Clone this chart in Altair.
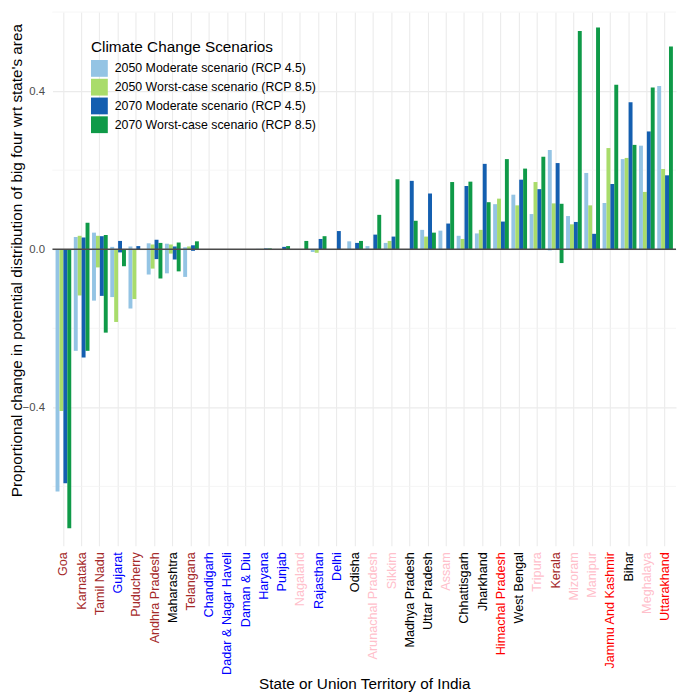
import altair as alt
import pandas as pd

states = ["Goa", "Karnataka", "Tamil Nadu", "Gujarat", "Puducherry", "Andhra Pradesh",
          "Maharashtra", "Telangana", "Chandigarh", "Dadar & Nagar Haveli", "Daman & Diu",
          "Haryana", "Punjab", "Nagaland", "Rajasthan", "Delhi", "Odisha",
          "Arunachal Pradesh", "Sikkim", "Madhya Pradesh", "Uttar Pradesh", "Assam",
          "Chhattisgarh", "Jharkhand", "Himachal Pradesh", "West Bengal", "Tripura",
          "Kerala", "Mizoram", "Manipur", "Jammu And Kashmir", "Bihar", "Meghalaya",
          "Uttarakhand"]

label_colors = ["#A52A2A", "#A52A2A", "#A52A2A", "#0000FF", "#A52A2A", "#A52A2A",
                "#000000", "#A52A2A", "#0000FF", "#0000FF", "#0000FF",
                "#0000FF", "#0000FF", "#FFC0CB", "#0000FF", "#0000FF", "#000000",
                "#FFC0CB", "#FFC0CB", "#000000", "#000000", "#FFC0CB",
                "#000000", "#000000", "#FF0000", "#000000", "#FFC0CB",
                "#A52A2A", "#FFC0CB", "#FFC0CB", "#FF0000", "#000000", "#FFC0CB",
                "#FF0000"]

scenarios = ["2050 Moderate scenario (RCP 4.5)", "2050 Worst-case scenario (RCP 8.5)",
             "2070 Moderate scenario (RCP 4.5)", "2070 Worst-case scenario (RCP 8.5)"]
colors = ["#94c4e4", "#a9dc6b", "#145fb0", "#0f9a48"]

# positive (gain) values per scenario, in state order
gain_2050_m = [0, 0.031, 0.042, 0.006, 0.007, 0.015, 0.014, 0.005, 0, 0, 0,
               0.001, 0, 0, 0, 0, 0.020, 0.008, 0.016, 0, 0.049, 0.047,
               0.034, 0.040, 0.114, 0.138, 0.089, 0.251, 0.084, 0.193, 0.117, 0.228, 0.262, 0.413]
gain_2050_w = [0, 0.034, 0.034, 0, 0, 0.012, 0.012, 0.007, 0, 0, 0,
               0.001, 0, 0, 0, 0, 0, 0, 0.021, 0, 0.032, 0,
               0.026, 0.049, 0.128, 0.111, 0.170, 0.116, 0.063, 0.111, 0.256, 0.231, 0.145, 0.203]
gain_2070_m = [0, 0.030, 0.033, 0.021, 0.008, 0.024, 0.007, 0.010, 0, 0, 0,
               0.002, 0.006, 0, 0.026, 0.046, 0.016, 0.037, 0.032, 0.173, 0.141, 0.065,
               0.160, 0.216, 0.070, 0.176, 0.152, 0.218, 0.069, 0.039, 0.165, 0.372, 0.298, 0.187]
gain_2070_w = [0, 0.067, 0.036, 0, 0, 0.016, 0.017, 0.020, 0, 0, 0,
               0.002, 0.008, 0.021, 0.033, 0, 0.021, 0.087, 0.177, 0.072, 0.042, 0.170,
               0.171, 0.119, 0.228, 0.204, 0.234, 0.115, 0.552, 0.561, 0.416, 0.264, 0.409, 0.513]

# negative (loss) values per scenario, in state order
loss_2050_m = [-0.613, -0.257, -0.130, -0.121, -0.150, -0.064, -0.061, -0.070, 0, 0, 0,
               0, 0, 0, -0.007, 0, 0, 0, 0, 0, 0, 0,
               0, 0, 0, 0, 0, -0.003, 0, 0, 0, 0, 0, 0]
loss_2050_w = [-0.409, -0.117, -0.046, -0.184, -0.126, -0.049, -0.011, 0, 0, 0, 0,
               0, 0, 0, -0.009, 0, 0, 0, 0, 0, 0, 0,
               0, 0, 0, 0, 0, 0, 0, 0, 0, 0, 0, 0]
loss_2070_m = [-0.592, -0.274, -0.118, -0.008, -0.001, -0.025, -0.026, -0.004, 0, 0, 0,
               0, 0, 0, 0, 0, 0, 0, 0, 0, 0, 0,
               0, 0, 0, 0, 0, 0, 0, 0, 0, 0, 0, 0]
loss_2070_w = [-0.706, -0.257, -0.211, -0.043, 0, -0.074, -0.056, 0, 0, 0, 0,
               0, 0, 0, 0, 0, 0, 0, 0, 0, 0, 0,
               0, 0, 0, 0, 0, -0.035, 0, 0, 0, 0, 0, 0]

minor_grid = [-0.6, -0.2, 0.2, 0.6]

gains = [gain_2050_m, gain_2050_w, gain_2070_m, gain_2070_w]
losses = [loss_2050_m, loss_2050_w, loss_2070_m, loss_2070_w]

rows = []
for sc, g_list, l_list in zip(scenarios, gains, losses):
    for st, g, l in zip(states, g_list, l_list):
        if g != 0:
            rows.append({"state": st, "scenario": sc, "value": g})
        if l != 0:
            rows.append({"state": st, "scenario": sc, "value": l})
df = pd.DataFrame(rows)

states_js = "[" + ",".join("'" + s + "'" for s in states) + "]"
colors_js = "[" + ",".join("'" + c + "'" for c in label_colors) + "]"
label_color_expr = colors_js + "[indexof(" + states_js + ", datum.value)]"

yscale = alt.Scale(domain=[-0.75, 0.6], nice=False, zero=False)

bars = alt.Chart(df).mark_bar().encode(
    x=alt.X("state:N", sort=states,
            scale=alt.Scale(domain=states, paddingInner=0.14, paddingOuter=0.17),
            axis=alt.Axis(title="State or Union Territory of India", labelAngle=-90,
                          labelAlign="right", labelBaseline="middle",
                          labelColor=alt.ExprRef(expr=label_color_expr),
                          labelFontSize=12.8, labelPadding=6, grid=True,
                          gridColor="#ebebeb", gridWidth=1.1, ticks=False, domain=False,
                          bandPosition=0.5, titleFontSize=15.5, titleFontWeight="normal",
                          titleColor="black", titleY=145, titleBaseline="alphabetic",
                          labelOverlap=False, labelLimit=0)),
    xOffset=alt.XOffset("scenario:N", sort=scenarios,
                        scale=alt.Scale(domain=scenarios, paddingInner=0, paddingOuter=0)),
    y=alt.Y("value:Q", stack=None, scale=yscale,
            axis=alt.Axis(title="Proportional change in potential distribution of big four wrt state's area",
                          values=[-0.4, 0.0, 0.4], format=".1f", labelColor="#4d4d4d",
                          labelFontSize=11.5, labelPadding=8, ticks=False, domain=False,
                          grid=True, gridColor="#ebebeb", gridWidth=1.1,
                          titleFontSize=15.5, titleFontWeight="normal", titleColor="black",
                          titleX=-31, titleY=251, titleBaseline="alphabetic", titleLimit=0)),
    color=alt.Color("scenario:N", sort=scenarios,
                    scale=alt.Scale(domain=scenarios, range=colors),
                    legend=alt.Legend(title="Climate Change Scenarios", orient="none",
                                      legendX=39, legendY=28, padding=0,
                                      symbolType="square", symbolSize=289,
                                      symbolStrokeWidth=0, symbolOpacity=1,
                                      rowPadding=2, labelOffset=7, titlePadding=5,
                                      titleFontSize=15.5, titleFontWeight="normal",
                                      titleColor="black", labelFontSize=12.5,
                                      labelColor="black", labelLimit=0, titleLimit=0)),
)

minor = alt.Chart(pd.DataFrame({"value": minor_grid})).mark_rule(
    color="#f2f2f2", strokeWidth=0.8
).encode(y=alt.Y("value:Q", scale=yscale))

zero_line = alt.Chart(pd.DataFrame({"value": [0.0]})).mark_rule(
    color="#4a4a4a", strokeWidth=1.6
).encode(y=alt.Y("value:Q", scale=yscale))

chart = alt.layer(minor, bars, zero_line).properties(
    width=631, height=540,
    autosize=alt.AutoSizeParams(type="none"),
    padding={"left": 45, "top": 0, "right": 1, "bottom": 149},
).configure(font="Liberation Sans").configure_view(stroke=None)

chart.save("out.html", embed_options={"renderer": "svg", "actions": False})
